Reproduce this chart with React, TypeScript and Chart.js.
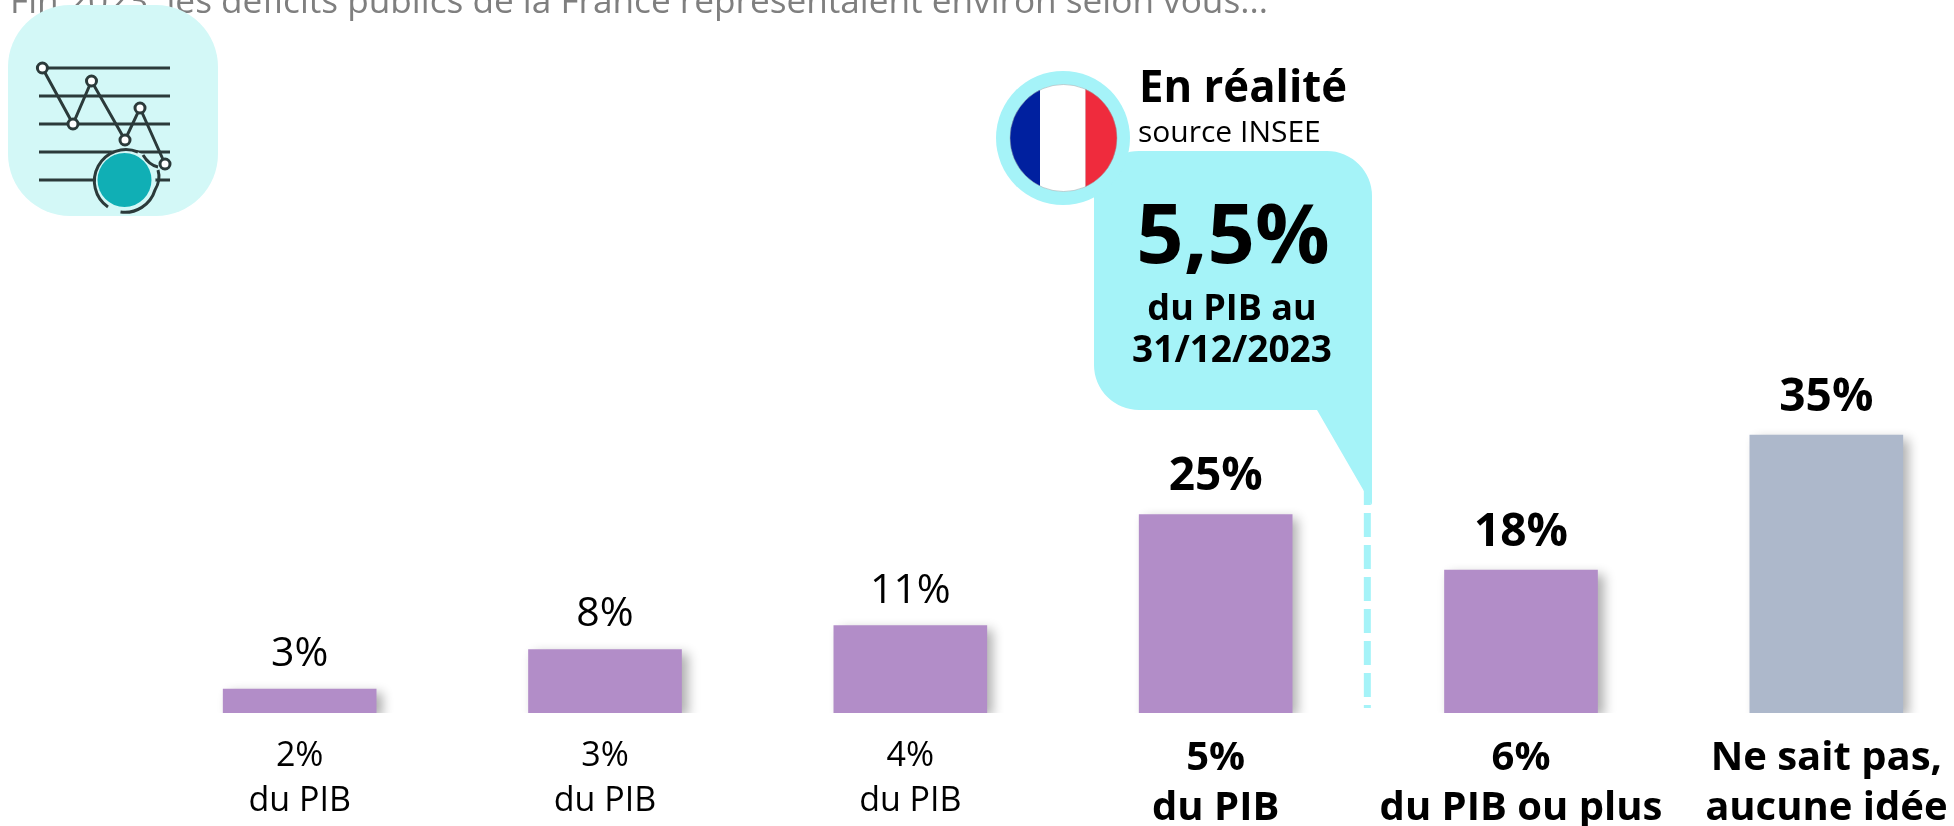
import React, { useEffect, useRef } from "react";
import { Chart, registerables } from "chart.js";

Chart.register(...registerables);

const categories = [
  ["2%", "du PIB"],
  ["3%", "du PIB"],
  ["4%", "du PIB"],
  ["5%", "du PIB"],
  ["6%", "du PIB ou plus"],
  ["Ne sait pas,", "aucune idée"],
];
const values = [3, 8, 11, 25, 18, 35];
const emphasised = [false, false, false, true, true, true];
const barColors = ["#B28DC8", "#B28DC8", "#B28DC8", "#B28DC8", "#B28DC8", "#ADB8CB"];
const titleText = "Fin 2023, les déficits publics de la France représentaient environ selon vous...";
const FONT = '"Open Sans", "Noto Sans", sans-serif';
const CYAN = "#A5F3F8";

const overlayPlugin = {
  id: "overlay",
  beforeDraw(chart: any) {
    const ctx = chart.ctx;
    ctx.save();
    ctx.fillStyle = "#7F7F7F";
    ctx.font = `35.2px ${FONT}`;
    ctx.textAlign = "left";
    ctx.textBaseline = "alphabetic";
    ctx.fillText(titleText, 10, 13);
    ctx.restore();
  },
  beforeDatasetDraw(chart: any) {
    const ctx = chart.ctx;
    ctx.save();
    ctx.beginPath();
    ctx.rect(0, 0, chart.width, chart.chartArea.bottom + 2);
    ctx.clip();
    ctx.shadowColor = "rgba(0,0,0,0.32)";
    ctx.shadowBlur = 11;
    ctx.shadowOffsetX = 6;
    ctx.shadowOffsetY = 4;
  },
  afterDatasetDraw(chart: any) {
    chart.ctx.restore();
  },
  afterDraw(chart: any) {
    const ctx = chart.ctx;
    const meta = chart.getDatasetMeta(0);
    ctx.save();
    ctx.fillStyle = "#000";
    ctx.textAlign = "center";
    ctx.textBaseline = "alphabetic";
    values.forEach((v, i) => {
      const el = meta.data[i];
      ctx.font = emphasised[i] ? `bold 46px ${FONT}` : `41px ${FONT}`;
      ctx.fillText(`${v}%`, el.x, el.y - (emphasised[i] ? 24 : 23));
    });
    // separator sitting between the 4th and 5th columns
    const sepX = (meta.data[3].x + meta.data[4].x) / 2;
    ctx.strokeStyle = CYAN;
    ctx.lineWidth = 7;
    ctx.setLineDash([24, 8]);
    ctx.beginPath();
    ctx.moveTo(sepX - 1, 481);
    ctx.lineTo(sepX - 1, 708);
    ctx.stroke();
    ctx.restore();
  },
};

function Overlay() {
  const dark = "#2B3A3A";
  const pts = [
    [42.4, 68],
    [73, 124],
    [91.5, 81],
    [125, 140],
    [140, 108],
    [165, 164],
  ];
  const rows = [68, 96, 124, 152, 180];
  return (
    <svg
      width={1954}
      height={826}
      style={{ position: "absolute", left: 0, top: 0, pointerEvents: "none" }}
      fontFamily={FONT}
    >
      <rect x={8} y={5} width={210} height={211} rx={62} fill="#D3F8F7" />
      {rows.map((y) => (
        <line key={y} x1={39} x2={170} y1={y} y2={y} stroke={dark} strokeWidth={3} />
      ))}
      <circle cx={124.5} cy={180} r={31} fill="#D3F8F7" />
      <circle cx={124.5} cy={180} r={27} fill="#10AFB5" />
      <path
        d="M108 207 A31.5 31.5 0 0 1 138 152 M143 155 Q149 165 158 167 M158 170 Q161 180 155 190 A31.5 31.5 0 0 1 120.5 212"
        fill="none"
        stroke={dark}
        strokeWidth={3}
      />
      <polyline points={pts.map((p) => p.join(",")).join(" ")} fill="none" stroke={dark} strokeWidth={3} />
      {pts.map((p) => (
        <circle key={p[0]} cx={p[0]} cy={p[1]} r={5} fill="#fff" stroke={dark} strokeWidth={3} />
      ))}

      <path
        d="M1139 151 H1327 A45 45 0 0 1 1372 196 V505 L1317 410 H1139 A45 45 0 0 1 1094 365 V196 A45 45 0 0 1 1139 151 Z"
        fill={CYAN}
      />
      <circle cx={1063} cy={138} r={67} fill={CYAN} />
      <clipPath id="flagClip">
        <circle cx={1063.5} cy={138} r={53.5} />
      </clipPath>
      <g clipPath="url(#flagClip)">
        <rect x={1000} y={80} width={40} height={120} fill="#00209F" />
        <rect x={1040} y={80} width={45.5} height={120} fill="#FFFFFF" />
        <rect x={1085.5} y={80} width={50} height={120} fill="#EF2B3D" />
      </g>
      <circle cx={1063.5} cy={138} r={53.5} fill="none" stroke="#9AA5A8" strokeWidth={0.5} />
      <text x={1139} y={102} fontSize={45} fontWeight={700} fill="#000" textLength={208} lengthAdjust="spacingAndGlyphs">En réalité</text>
      <text x={1138} y={142} fontSize={30} fill="#000">source INSEE</text>
      <text x={1233} y={263} fontSize={83} fontWeight={700} textAnchor="middle" fill="#000">5,5%</text>
      <text x={1232} y={320} fontSize={36} fontWeight={700} textAnchor="middle" fill="#000">du PIB au</text>
      <text x={1232} y={362} fontSize={37} fontWeight={700} textAnchor="middle" fill="#000">31/12/2023</text>
    </svg>
  );
}

export default function App() {
  const ref = useRef<HTMLCanvasElement | null>(null);
  useEffect(() => {
    const chart = new Chart(ref.current as HTMLCanvasElement, {
      type: "bar",
      data: {
        labels: categories,
        datasets: [{ data: values, backgroundColor: barColors, barThickness: 153 }],
      },
      options: {
        animation: false,
        responsive: false,
        devicePixelRatio: 1,
        layout: { padding: { left: 147, right: 21, top: 38, bottom: 0 } },
        plugins: { legend: { display: false }, tooltip: { enabled: false } },
        scales: {
          y: { display: false, min: 0, max: 85 },
          x: {
            afterFit(scale: any) {
              scale.height = 113;
            },
            grid: { display: false },
            border: { display: false },
            ticks: {
              autoSkip: false,
              maxRotation: 0,
              padding: 13,
              color: "#000",
              font: (c: any) =>
                emphasised[c.index]
                  ? { family: FONT, size: 40, weight: "bold", lineHeight: 1.25 }
                  : { family: FONT, size: 34, weight: "normal", lineHeight: 1.32 },
            },
          },
        },
      },
      plugins: [overlayPlugin],
    } as any);
    return () => chart.destroy();
  }, []);
  return (
    <div style={{ position: "absolute", left: 0, top: 0, width: 1954, height: 826, overflow: "hidden", background: "#fff" }}>
      <canvas ref={ref} width={2000} height={826} style={{ position: "absolute", left: 0, top: 0 }} />
      <Overlay />
    </div>
  );
}
